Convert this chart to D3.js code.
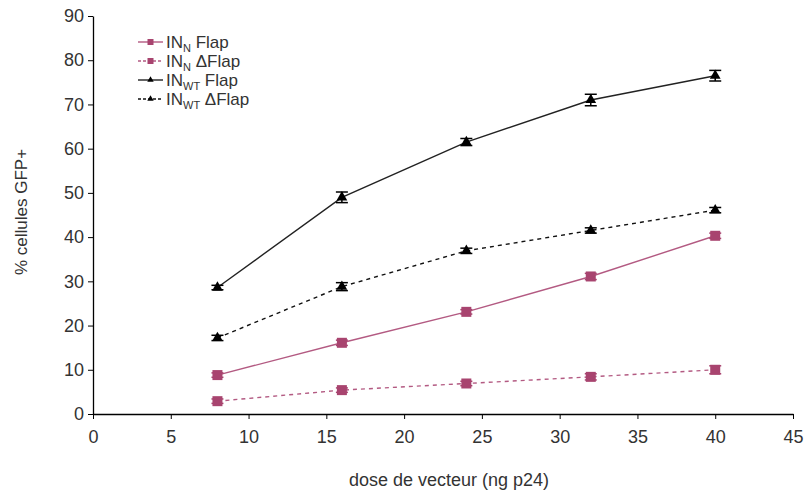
<!DOCTYPE html>
<html>
<head>
<meta charset="utf-8">
<script src="https://cdn.jsdelivr.net/npm/d3@7"></script>
<style>
  body { margin: 0; background: #fff; }
  text { font-family: "Liberation Sans", Arial, sans-serif; fill: #333; }
</style>
</head>
<body>
<svg id="chart" width="807" height="494"></svg>
<script>
// doses (ng p24)
const doses = [8, 16, 24, 32, 40];

// % GFP+ cells for each vector
const inNFlap = [8.8, 16.1, 23.1, 31.1, 40.3];
const inNFlapErr = [0.5, 0.6, 0.5, 0.7, 0.6];
const inNDFlap = [2.9, 5.4, 6.9, 8.4, 10.0];
const inNDFlapErr = [0.5, 0.5, 0.5, 0.7, 0.9];
const inWTFlap = [28.6, 49.0, 61.5, 71.0, 76.5];
const inWTFlapErr = [0.5, 1.2, 0.8, 1.3, 1.2];
const inWTDFlap = [17.2, 28.8, 36.9, 41.5, 46.1];
const inWTDFlapErr = [0.6, 0.9, 0.6, 0.6, 0.6];

const xTicks = [0, 5, 10, 15, 20, 25, 30, 35, 40, 45];
const yTicks = [0, 10, 20, 30, 40, 50, 60, 70, 80, 90];

const pink = "#a8446f";

const series = [
  { name: "N", extra: " Flap", values: inNFlap, err: inNFlapErr, color: "#b35a82", dash: null, marker: "square" },
  { name: "N", extra: " \u0394Flap", values: inNDFlap, err: inNDFlapErr, color: "#b35a82", dash: "4,4", marker: "square" },
  { name: "WT", extra: " Flap", values: inWTFlap, err: inWTFlapErr, color: "#222", dash: null, marker: "triangle" },
  { name: "WT", extra: " \u0394Flap", values: inWTDFlap, err: inWTDFlapErr, color: "#111", dash: "4,4", marker: "triangle" },
];

const svg = d3.select("#chart");

const x = d3.scaleLinear().domain([0, 45]).range([93, 793]);
const y = d3.scaleLinear().domain([0, 90]).range([414, 16]);

// axes
const xAxis = d3.axisBottom(x).tickValues(xTicks).tickSize(5).tickSizeOuter(0);
const gx = svg.append("g")
  .attr("transform", `translate(0, ${y(0)})`)
  .call(xAxis);
gx.select(".domain").attr("stroke", "#000").attr("stroke-width", 1.3);
gx.selectAll(".tick line").attr("stroke", "#000");
gx.selectAll(".tick text").attr("y", 16).attr("dy", "0.71em")
  .style("font-size", "18px").attr("fill", "#333");

const yAxis = d3.axisLeft(y).tickValues(yTicks).tickSize(5).tickSizeOuter(0);
const gy = svg.append("g")
  .attr("transform", `translate(${x(0)}, 0)`)
  .call(yAxis);
gy.select(".domain").attr("stroke", "#000").attr("stroke-width", 1.3);
gy.selectAll(".tick line").attr("stroke", "#000");
gy.selectAll(".tick text").attr("x", -9).style("font-size", "18px").attr("fill", "#333");

// axis titles
svg.append("text")
  .attr("x", 449).attr("y", 486)
  .attr("text-anchor", "middle")
  .style("font-size", "18px")
  .text("dose de vecteur (ng p24)");

svg.append("text")
  .attr("transform", "translate(27, 212) rotate(-90)")
  .attr("text-anchor", "middle")
  .style("font-size", "17px")
  .text("% cellules GFP+");

const lineGen = d3.line().x(d => x(d[0])).y(d => y(d[1]));

function drawMarker(g, cx, cy, s, big) {
  if (s.marker === "square") {
    const sz = big ? 10 : 6;
    g.append("rect")
      .attr("x", cx - sz / 2).attr("y", cy - sz / 2)
      .attr("width", sz).attr("height", sz)
      .attr("fill", pink);
  } else {
    g.append("path")
      .attr("d", d3.symbol().type(d3.symbolTriangle).size(big ? 50 : 18)())
      .attr("transform", `translate(${cx}, ${cy})`)
      .attr("fill", "#000");
  }
}

series.forEach(s => {
  const pts = doses.map((d, i) => [d, s.values[i]]);
  const g = svg.append("g");
  g.append("path")
    .attr("d", lineGen(pts))
    .attr("fill", "none")
    .attr("stroke", s.color)
    .attr("stroke-width", 1.4)
    .attr("stroke-dasharray", s.dash);

  pts.forEach((p, i) => {
    const cx = x(p[0]);
    const hi = y(p[1] + s.err[i]), lo = y(p[1] - s.err[i]);
    const capCol = s.marker === "square" ? pink : "#000";
    g.append("line").attr("x1", cx).attr("x2", cx).attr("y1", hi).attr("y2", lo)
      .attr("stroke", capCol).attr("stroke-width", 1.5);
    [hi, lo].forEach(yy => g.append("line")
      .attr("x1", cx - 6).attr("x2", cx + 6).attr("y1", yy).attr("y2", yy)
      .attr("stroke", capCol).attr("stroke-width", 1.5));
    drawMarker(g, cx, y(p[1]), s, true);
  });
});

// legend
const legend = svg.append("g").attr("transform", "translate(138, 42)");
series.forEach((s, i) => {
  const row = legend.append("g").attr("transform", `translate(0, ${i * 19})`);
  row.append("line")
    .attr("x1", 0).attr("x2", 25).attr("y1", 0).attr("y2", 0)
    .attr("stroke", s.color).attr("stroke-width", 1.4)
    .attr("stroke-dasharray", s.dash ? "3,2" : null);
  drawMarker(row, 12.5, 0, s, false);
  const t = row.append("text").attr("x", 28).attr("y", 6).style("font-size", "17px");
  t.append("tspan").text("IN");
  t.append("tspan").attr("dy", 4).style("font-size", "11px").text(s.name);
  t.append("tspan").attr("dy", -4).text(s.extra);
});
</script>
</body>
</html>
